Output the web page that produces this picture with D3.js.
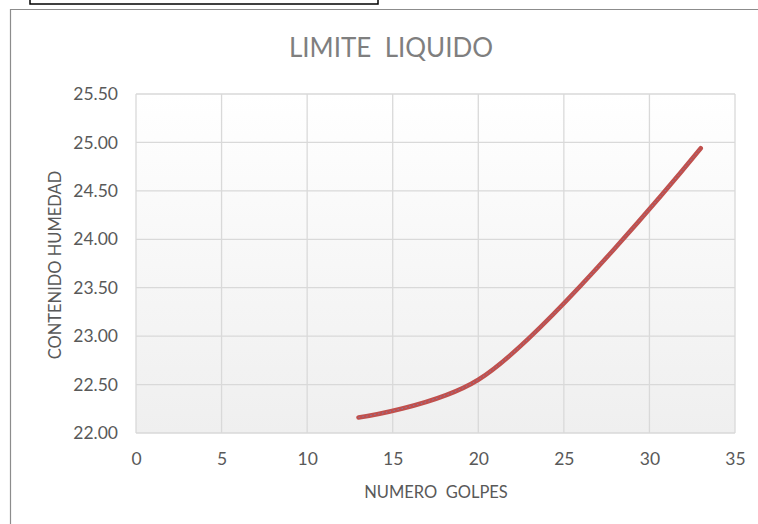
<!DOCTYPE html>
<html><head><meta charset="utf-8">
<script src="https://cdn.jsdelivr.net/npm/d3@7"></script>
<style>html,body{margin:0;padding:0;background:#fff;}svg{display:block;}</style>
</head><body>
<script>
const golpes = [13, 20, 33];
const humedad = [22.16, 22.55, 24.94];
const xTicks = [0, 5, 10, 15, 20, 25, 30, 35];
const yTicks = [22.0, 22.5, 23.0, 23.5, 24.0, 24.5, 25.0, 25.5];
const title = "LIMITE  LIQUIDO";
const xTitle = "NUMERO  GOLPES";
const yTitle = "CONTENIDO HUMEDAD";

const W = 758, H = 524;
const FONT = "Lato, 'Open Sans', sans-serif";
const svg = d3.select("body").append("svg").attr("width", W).attr("height", H);
const defs = svg.append("defs");
const grad = defs.append("linearGradient").attr("id","bg").attr("x1",0).attr("y1",0).attr("x2",0).attr("y2",1);
grad.append("stop").attr("offset","0%").attr("stop-color","#ffffff");
grad.append("stop").attr("offset","100%").attr("stop-color","#efefef");

// outer frames
svg.append("rect").attr("x",30).attr("y",-3).attr("width",348).attr("height",7)
  .attr("fill","none").attr("stroke","#000").attr("stroke-width",1.5);
svg.append("path").attr("d","M10.5,524 V9.5 H758").attr("fill","none").attr("stroke","#8c8c8c").attr("stroke-width",1.2);

const L = 136, R = 735, T = 94, B = 433;
const x = d3.scaleLinear().domain([0,35]).range([L,R]);
const y = d3.scaleLinear().domain([22,25.5]).range([B,T]);

svg.append("rect").attr("x",L).attr("y",T).attr("width",R-L).attr("height",B-T).attr("fill","url(#bg)");

const grid = svg.append("g").attr("stroke","#d9d9d9").attr("stroke-width",1.3);
xTicks.forEach(t=>grid.append("line").attr("x1",x(t)).attr("x2",x(t)).attr("y1",T).attr("y2",B));
yTicks.forEach(t=>grid.append("line").attr("x1",L).attr("x2",R).attr("y1",y(t)).attr("y2",y(t)));

const xAxis = svg.append("g").attr("transform",`translate(0,${B})`)
  .call(d3.axisBottom(x).tickValues(xTicks).tickSize(0).tickPadding(20).tickFormat(d3.format("d")));
xAxis.select(".domain").remove();
const yAxis = svg.append("g").attr("transform",`translate(${L},0)`)
  .call(d3.axisLeft(y).tickValues(yTicks).tickSize(0).tickPadding(18).tickFormat(d3.format(".2f")));
yAxis.select(".domain").remove();
svg.selectAll(".tick text").attr("font-family",FONT).attr("font-size",17.5).attr("fill","#595959");

svg.append("text").attr("x",391).attr("y",57).attr("text-anchor","middle")
  .attr("font-family",FONT).attr("font-size",26).attr("fill","#7f7f7f")
  .style("white-space","pre").text(title);
svg.append("text").attr("x",436).attr("y",498).attr("text-anchor","middle")
  .attr("font-family",FONT).attr("font-size",16.5).attr("fill","#595959")
  .style("white-space","pre").text(xTitle);
svg.append("text").attr("transform","translate(61,265) rotate(-90)").attr("text-anchor","middle")
  .attr("font-family",FONT).attr("font-size",16.5).attr("fill","#595959")
  .text(yTitle);

const pts = golpes.map((g,i)=>[g, humedad[i]]);
const line = d3.line().x(d=>x(d[0])).y(d=>y(d[1])).curve(d3.curveCatmullRom.alpha(0.5));
svg.append("path").attr("d",line(pts)).attr("fill","none").attr("stroke","#c0504d")
  .attr("stroke-width",4.5).attr("stroke-linecap","round");
svg.append("path").attr("d",line(pts)).attr("fill","none").attr("stroke","#7b7fb5")
  .attr("stroke-width",1).attr("stroke-dasharray","1.5,2.5").attr("opacity",0.8);
</script>
</body></html>
